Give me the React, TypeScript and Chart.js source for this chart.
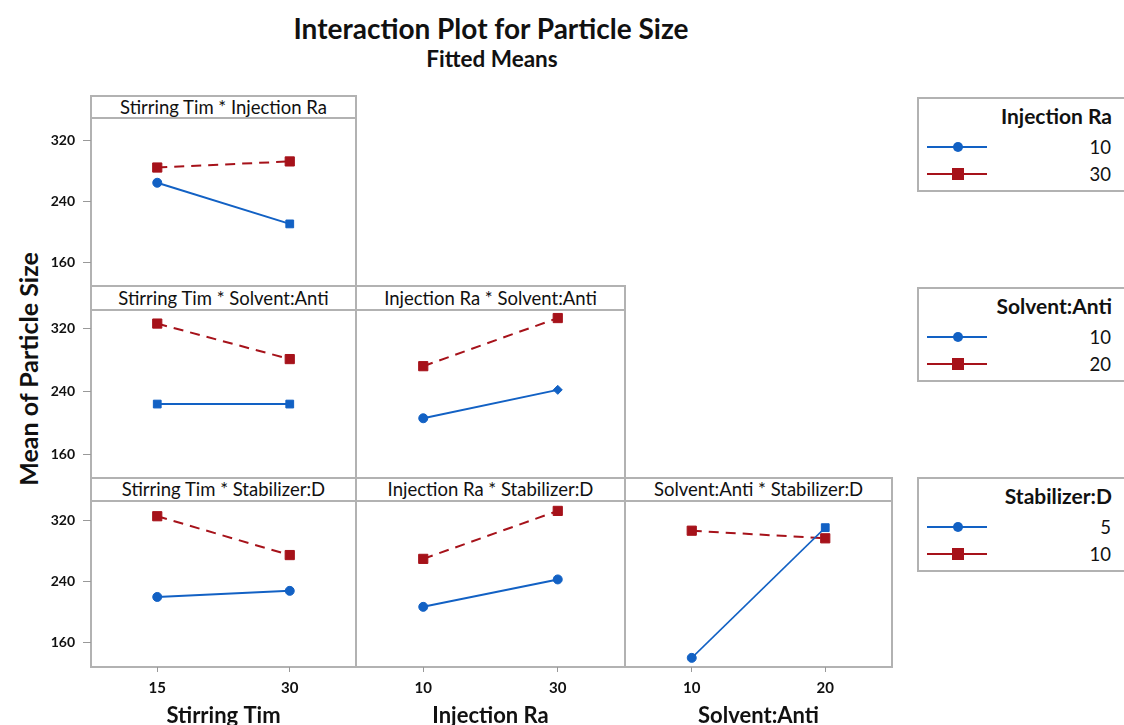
import React, { useEffect, useRef } from 'react';
import { Chart, registerables } from 'chart.js';
Chart.register(...registerables);

// ---------- data ----------
const factorNames = ['Stirring Tim', 'Injection Ra', 'Solvent:Anti'];
const factorLevels = [['15', '30'], ['10', '30'], ['10', '20']];
const traceNames = ['Injection Ra', 'Solvent:Anti', 'Stabilizer:D'];
const traceLevels = [['10', '30'], ['10', '20'], ['5', '10']];
const yTicks = [160, 240, 320];

// Stirring Tim * Injection Ra
const stirInjLow = [264, 210];
const stirInjHigh = [284, 292];
// Stirring Tim * Solvent:Anti
const stirSolLow = [224, 224];
const stirSolHigh = [326, 281];
// Injection Ra * Solvent:Anti
const injSolLow = [206, 242];
const injSolHigh = [272, 333];
// Stirring Tim * Stabilizer:D
const stirStabLow = [220, 228];
const stirStabHigh = [326, 275];
// Injection Ra * Stabilizer:D
const injStabLow = [207, 243];
const injStabHigh = [270, 333];
// Solvent:Anti * Stabilizer:D
const solStabLow = [140, 311];
const solStabHigh = [307, 297];

// ---------- style / layout ----------
const BLUE = '#1261c4';
const RED = '#a6121a';
const FRAME = '#b2b2b2';
const FONT = 'Lato, "Open Sans", sans-serif';

const colLeft = [91, 356, 625];
const colRight = [356, 625, 892];
const headerTop = [96, 286, 478];
const plotTop = [118, 310, 501];
const plotBottom = [286, 478, 667];
const yRange = [[128.5, 349], [130.3, 343.2], [128, 346]];
const legendTop = [97, 287, 477];
const LEFT_EXT = 60;
const BOTTOM_EXT = 62;

type Panel = { row: number; col: number; low: number[]; high: number[]; lowStyles: string[] };

const panels: Panel[] = [
  { row: 0, col: 0, low: stirInjLow, high: stirInjHigh, lowStyles: ['circle', 'rect'] },
  { row: 1, col: 0, low: stirSolLow, high: stirSolHigh, lowStyles: ['rect', 'rect'] },
  { row: 1, col: 1, low: injSolLow, high: injSolHigh, lowStyles: ['circle', 'rectRot'] },
  { row: 2, col: 0, low: stirStabLow, high: stirStabHigh, lowStyles: ['circle', 'circle'] },
  { row: 2, col: 1, low: injStabLow, high: injStabHigh, lowStyles: ['circle', 'circle'] },
  { row: 2, col: 2, low: solStabLow, high: solStabHigh, lowStyles: ['circle', 'rect'] },
];

function panelBox(p: Panel) {
  const isLeft = p.col === 0;
  const isBottom = p.row === 2;
  const left = colLeft[p.col] - (isLeft ? LEFT_EXT : 0);
  const width = colRight[p.col] - colLeft[p.col] + (isLeft ? LEFT_EXT : 0);
  const top = plotTop[p.row];
  const height = plotBottom[p.row] - plotTop[p.row] + (isBottom ? BOTTOM_EXT : 0);
  return { left, top, width, height };
}

export default function App() {
  const refs = useRef<(HTMLCanvasElement | null)[]>([]);

  useEffect(() => {
    document.body.style.margin = '0';
    const charts: Chart[] = [];
    panels.forEach((p, i) => {
      const canvas = refs.current[i];
      if (!canvas) return;
      const isLeft = p.col === 0;
      const isBottom = p.row === 2;
      const chart = new Chart(canvas, {
        type: 'line',
        data: {
          labels: factorLevels[p.col],
          datasets: [
            {
              data: p.low,
              borderColor: BLUE,
              backgroundColor: BLUE,
              borderWidth: p.row === 2 && p.col === 2 ? 1.5 : 2,
              pointStyle: p.lowStyles as any,
              pointRadius: p.lowStyles.map((s) => (s === 'rect' ? 5.5 : 4.5)),
              pointBorderWidth: 1,
              clip: false as any,
            },
            {
              data: p.high,
              borderColor: RED,
              backgroundColor: RED,
              borderWidth: 2,
              borderDash: [10, 7],
              pointStyle: 'rect',
              pointRadius: 6.5,
              pointBorderWidth: 1,
              clip: false as any,
            },
          ],
        },
        options: {
          animation: false,
          responsive: false,
          maintainAspectRatio: false,
          devicePixelRatio: 1,
          layout: { padding: 0, autoPadding: false },
          plugins: { legend: { display: false }, tooltip: { enabled: false }, title: { display: false } },
          scales: {
            x: {
              type: 'category',
              offset: true,
              display: isBottom,
              grid: { display: true, drawOnChartArea: false, drawTicks: true, tickLength: 5, color: '#999' },
              border: { display: false },
              ticks: { color: '#111', font: { family: FONT, size: 15, weight: 'bold' }, padding: 7, maxRotation: 0 },
              title: {
                display: true,
                text: factorNames[p.col],
                color: '#111',
                font: { family: FONT, size: 22, weight: 'bold' },
                padding: 0,
              },
              afterFit: (s: any) => {
                if (isBottom) s.height = BOTTOM_EXT;
                s.paddingLeft = 0;
                s.paddingRight = 0;
              },
            },
            y: {
              type: 'linear',
              min: yRange[p.row][0],
              max: yRange[p.row][1],
              display: isLeft,
              afterBuildTicks: (s: any) => {
                s.ticks = yTicks.map((v) => ({ value: v }));
              },
              grid: { display: true, drawOnChartArea: false, drawTicks: true, tickLength: 8, color: '#999' },
              border: { display: false },
              ticks: { color: '#111', font: { family: FONT, size: 14, weight: 'bold' }, padding: 8 },
              afterFit: (s: any) => {
                if (isLeft) s.width = LEFT_EXT;
                s.paddingTop = 0;
                s.paddingBottom = 0;
              },
            },
          },
        },
      } as any);
      charts.push(chart);
    });
    return () => charts.forEach((c) => c.destroy());
  }, []);

  const frames: React.ReactNode[] = [];
  panels.forEach((p, i) => {
    const l = colLeft[p.col];
    const w = colRight[p.col] - colLeft[p.col];
    frames.push(
      <div
        key={'h' + i}
        style={{
          position: 'absolute',
          left: l - 1,
          top: headerTop[p.row] - 1,
          width: w + 2,
          height: plotTop[p.row] - headerTop[p.row] + 2,
          border: `2px solid ${FRAME}`,
          boxSizing: 'border-box',
          fontFamily: FONT,
          fontSize: 18.5,
          color: '#111',
          textAlign: 'center',
          lineHeight: `${plotTop[p.row] - headerTop[p.row] - 2}px`,
          whiteSpace: 'nowrap',
        }}
      >
        {`${factorNames[p.col]} * ${traceNames[p.row]}`}
      </div>
    );
    frames.push(
      <div
        key={'p' + i}
        style={{
          position: 'absolute',
          left: l - 1,
          top: plotTop[p.row] - 1,
          width: w + 2,
          height: plotBottom[p.row] - plotTop[p.row] + 2,
          border: `2px solid ${FRAME}`,
          boxSizing: 'border-box',
        }}
      />
    );
  });

  const legends = traceNames.map((name, k) => {
    const t = legendTop[k];
    const entry = (y: number, color: string, square: boolean, label: string) => (
      <React.Fragment key={label + y}>
        <div style={{ position: 'absolute', left: 927, top: y - 1, width: 60, height: 2, background: color }} />
        <div
          style={{
            position: 'absolute',
            left: square ? 952 : 953,
            top: square ? y - 6 : y - 5,
            width: square ? 12 : 10,
            height: square ? 12 : 10,
            borderRadius: square ? 0 : 5,
            background: color,
          }}
        />
        <div
          style={{
            position: 'absolute',
            left: 1000,
            width: 111,
            top: y - 12,
            lineHeight: '24px',
            textAlign: 'right',
            fontFamily: FONT,
            fontSize: 18.5,
            color: '#111',
          }}
        >
          {label}
        </div>
      </React.Fragment>
    );
    return (
      <React.Fragment key={'lg' + k}>
        <div
          style={{
            position: 'absolute',
            left: 917,
            top: t,
            width: 300,
            height: 95,
            border: `2px solid ${FRAME}`,
            boxSizing: 'border-box',
          }}
        />
        <div
          style={{
            position: 'absolute',
            left: 940,
            width: 172,
            top: t + 5,
            lineHeight: '28px',
            textAlign: 'right',
            fontFamily: FONT,
            fontSize: 21,
            fontWeight: 'bold',
            color: '#111',
            whiteSpace: 'nowrap',
          }}
        >
          {name}
        </div>
        {entry(t + 50, BLUE, false, traceLevels[k][0])}
        {entry(t + 77, RED, true, traceLevels[k][1])}
      </React.Fragment>
    );
  });

  return (
    <div
      style={{
        position: 'relative',
        width: 1124,
        height: 725,
        overflow: 'hidden',
        background: '#fff',
        fontFamily: FONT,
      }}
    >
      <div
        style={{
          position: 'absolute',
          left: 191,
          width: 600,
          top: 10,
          lineHeight: '36px',
          textAlign: 'center',
          fontSize: 28,
          fontWeight: 'bold',
          color: '#111',
          whiteSpace: 'nowrap',
        }}
      >
        Interaction Plot for Particle Size
      </div>
      <div
        style={{
          position: 'absolute',
          left: 292,
          width: 400,
          top: 45,
          lineHeight: '28px',
          textAlign: 'center',
          fontSize: 22.5,
          fontWeight: 'bold',
          color: '#111',
        }}
      >
        Fitted Means
      </div>
      <div
        style={{
          position: 'absolute',
          left: 28 - 160,
          top: 369 - 16,
          width: 320,
          height: 32,
          lineHeight: '32px',
          textAlign: 'center',
          transform: 'rotate(-90deg)',
          fontSize: 25,
          fontWeight: 'bold',
          color: '#111',
          whiteSpace: 'nowrap',
        }}
      >
        Mean of Particle Size
      </div>
      {frames}
      {panels.map((p, i) => {
        const b = panelBox(p);
        return (
          <canvas
            key={'c' + i}
            ref={(el) => {
              refs.current[i] = el;
            }}
            width={b.width}
            height={b.height}
            style={{ position: 'absolute', left: b.left, top: b.top, width: b.width, height: b.height }}
          />
        );
      })}
      {legends}
    </div>
  );
}
